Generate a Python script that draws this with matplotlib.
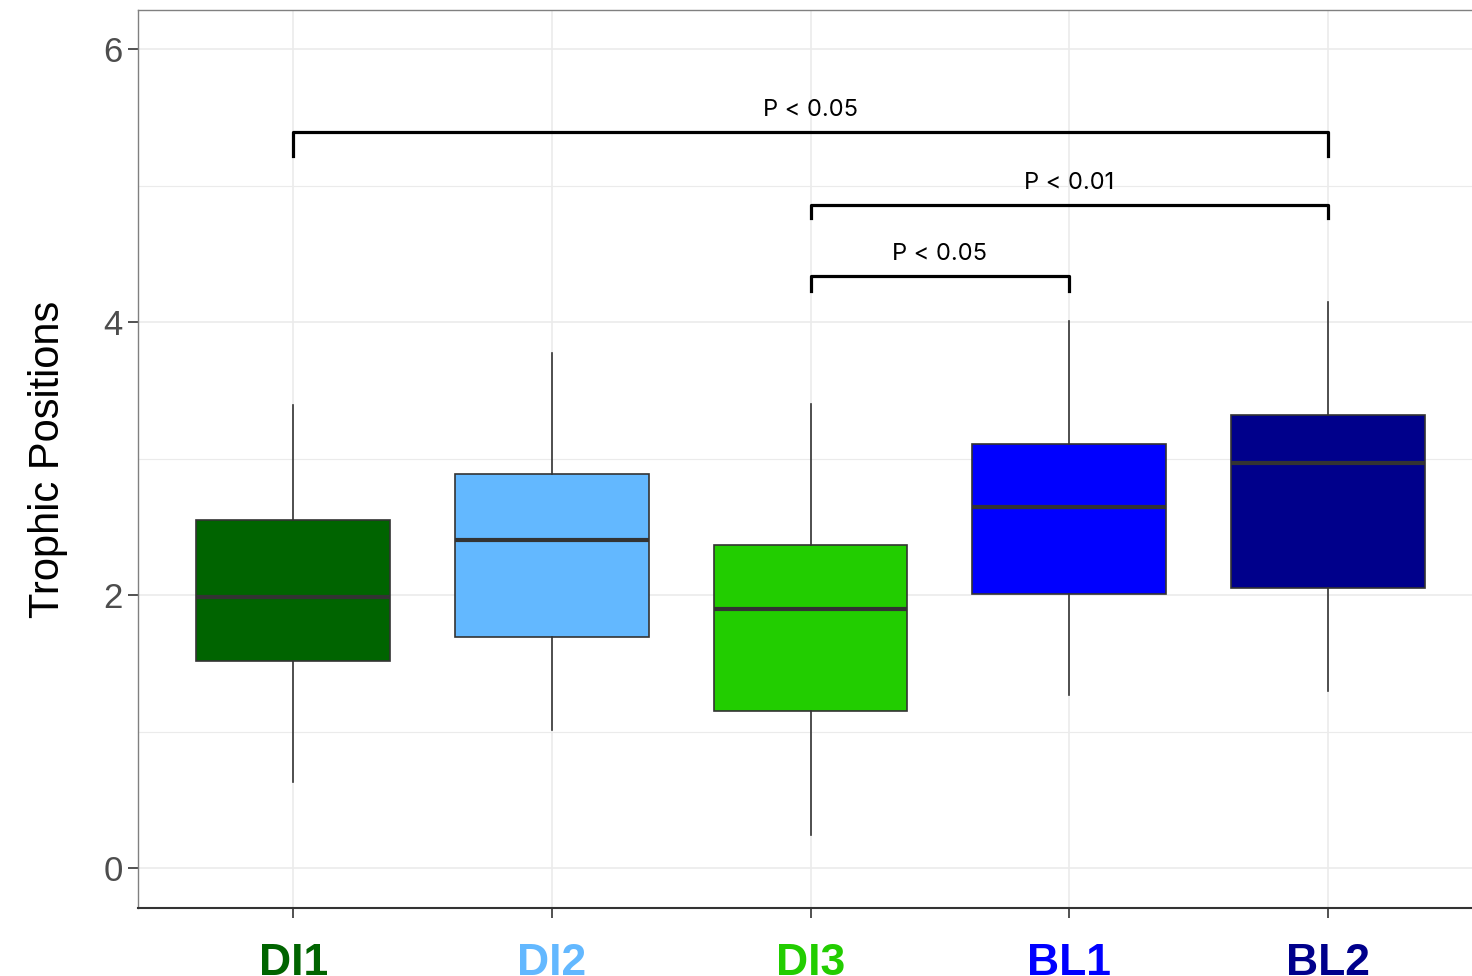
import matplotlib.pyplot as plt
import numpy as np

# group summaries (whisker ends, quartiles, median)
groups = ["DI1", "DI2", "DI3", "BL1", "BL2"]
colors = ["#006400", "#63B8FF", "#22CD00", "#0000FF", "#00008B"]
whislo = [0.63, 1.01, 0.24, 1.27, 1.30]
q1 = [1.52, 1.69, 1.15, 2.01, 2.05]
med = [1.985, 2.40, 1.90, 2.645, 2.97]
q3 = [2.55, 2.89, 2.37, 3.11, 3.32]
whishi = [3.39, 3.77, 3.40, 4.01, 4.15]

# pairwise comparisons: (start group, end group, bar height, tip height, label)
comparisons = [
    (1, 5, 5.39, 5.22, "P < 0.05"),
    (3, 5, 4.86, 4.76, "P < 0.01"),
    (3, 4, 4.34, 4.23, "P < 0.05"),
]

fig = plt.figure(figsize=(14.72, 9.76), dpi=100)
ax = fig.add_axes([138 / 1472, 68 / 976, (1483 - 138) / 1472, 898 / 976])

stats = []
for i, g in enumerate(groups):
    stats.append(dict(label=g, whislo=whislo[i], q1=q1[i], med=med[i],
                      q3=q3[i], whishi=whishi[i], fliers=[]))

pos = np.arange(1, len(groups) + 1)
bp = ax.bxp(stats, positions=pos, widths=0.75, patch_artist=True,
            showcaps=False, zorder=3,
            boxprops=dict(edgecolor="#333333", linewidth=1.2),
            whiskerprops=dict(color="#333333", linewidth=1.2),
            medianprops=dict(color="#333333", linewidth=3))
for patch, c in zip(bp["boxes"], colors):
    patch.set_facecolor(c)

for a, b, y, tip, lab in comparisons:
    ax.plot([a, a, b, b], [tip, y, y, tip], color="black", lw=2.3,
            solid_joinstyle="round", zorder=4)
    ax.text((a + b) / 2, y + 0.08, lab, ha="center", va="bottom",
            fontsize=17, family=["Inter", "DejaVu Sans"])

ax.set_xlim(0.4, 5.6)
ax.set_ylim(-0.293, 6.286)
ax.set_yticks([0, 2, 4, 6])
ax.set_yticks([1, 3, 5], minor=True)
ax.set_xticks(pos)
ax.set_xticklabels(groups)
ax.tick_params(axis="y", which="major", labelsize=25, labelcolor="#4D4D4D",
               color="#333333", length=7, width=1.2, pad=4)
ax.tick_params(axis="y", which="minor", length=0)
ax.tick_params(axis="x", labelsize=32, color="#333333", length=7, width=1.2, pad=18)
for lab, c in zip(ax.get_xticklabels(), colors):
    lab.set_color(c)
    lab.set_fontweight("bold")
    lab.set_family("Liberation Sans")
for lab in ax.get_yticklabels():
    lab.set_family("Liberation Sans")

ax.grid(True, which="major", color="#EBEBEB", lw=1.2, zorder=0)
ax.grid(True, which="minor", axis="y", color="#EBEBEB", lw=0.8, zorder=0)
ax.set_axisbelow(True)

for side in ["top", "left", "right"]:
    ax.spines[side].set_color("#808080")
    ax.spines[side].set_linewidth(1.0)
ax.spines["bottom"].set_color("#333333")
ax.spines["bottom"].set_linewidth(1.5)

ax.set_ylabel("Trophic Positions", fontsize=30, family="Liberation Sans")
ax.yaxis.set_label_coords(-70 / 1345, 0.5)

fig.savefig("out.png", dpi=100)
